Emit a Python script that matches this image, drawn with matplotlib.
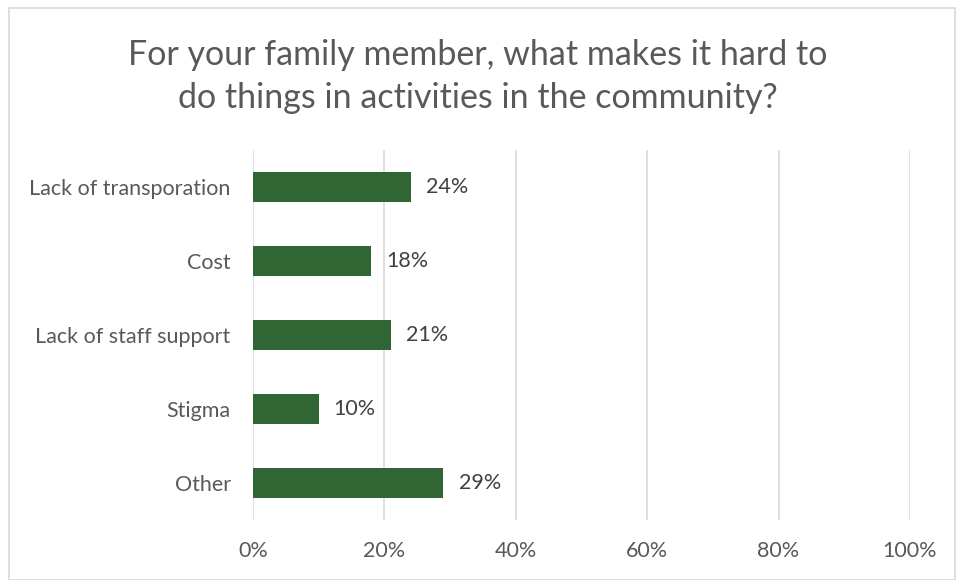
import matplotlib
matplotlib.use('Agg')
import matplotlib.pyplot as plt
from matplotlib.patches import Rectangle

plt.rcParams['font.family'] = ['Lato', 'DejaVu Sans']

# Data
categories = ['Lack of transporation', 'Cost', 'Lack of staff support', 'Stigma', 'Other']
values = [24, 18, 21, 10, 29]
x_ticks = [0, 20, 40, 60, 80, 100]
x_ticklabels = ['0%', '20%', '40%', '60%', '80%', '100%']
title = 'For your family member, what makes it hard to\ndo things in activities in the community?'

bar_color = '#306634'
text_color = '#595959'

fig = plt.figure(figsize=(9.56, 5.8), dpi=100)
ax = fig.add_axes([0.2646, 0.1034, 0.6872, 0.638])

ypos = list(range(len(categories)))
ax.barh(ypos, values, height=0.4, color=bar_color, zorder=3)
for y, v in zip(ypos, values):
    ax.text(v + 2.3, y, '%d%%' % v, va='center', ha='left', fontsize=15.5, color='#404040')

ax.set_ylim(len(categories) - 0.5, -0.5)
ax.set_yticks(ypos)
ax.set_yticklabels(categories, fontsize=15.5, color=text_color)
ax.set_xlim(0, 100)
ax.set_xticks(x_ticks)
ax.set_xticklabels(x_ticklabels, fontsize=15.5, color=text_color)
ax.tick_params(length=0, pad=16)
ax.tick_params(axis='x', pad=15)
ax.grid(axis='x', color='#d9d9d9', linewidth=1.2, zorder=0)
for s in ax.spines.values():
    s.set_visible(False)

fig.text(0.5, 0.868, title, ha='center', va='center', fontsize=24.5, color=text_color, linespacing=1.45)

fig.patches.append(Rectangle((0.009, 0.0), 0.99, 0.987, transform=fig.transFigure,
                             fill=False, edgecolor='#d9d9d9', linewidth=1.2))

fig.savefig('out.png', dpi=100, facecolor='white')
